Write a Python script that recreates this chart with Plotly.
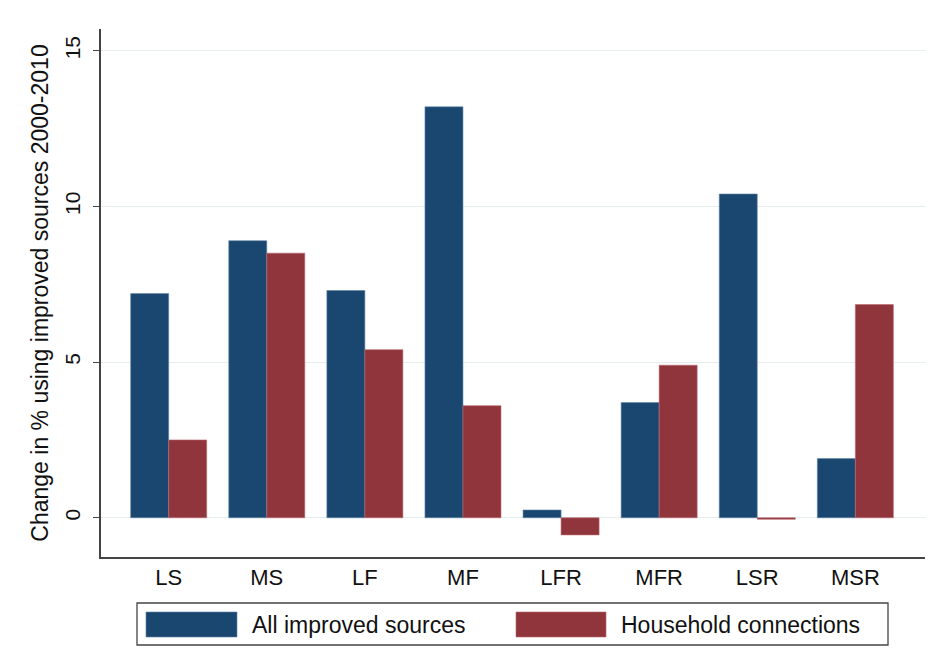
import plotly.graph_objects as go

categories = ["LS", "MS", "LF", "MF", "LFR", "MFR", "LSR", "MSR"]
all_improved = [7.2, 8.9, 7.3, 13.2, 0.25, 3.7, 10.4, 1.9]
household = [2.5, 8.5, 5.4, 3.6, -0.55, 4.9, -0.05, 6.85]
series_names = ["All improved sources", "Household connections"]
y_ticks = [0, 5, 10, 15]

BLUE = "#1a476f"
RED = "#90353b"
FONT = "Liberation Sans, Arial, Helvetica, sans-serif"

W, H = 935, 672
ML, MR, MT, MB = 101, 10, 29, 115
PW, PH = W - ML - MR, H - MT - MB


def px(x):
    return (x - ML) / PW


def py(y):
    return (H - MB - y) / PH


fig = go.Figure()
fig.add_trace(go.Bar(x=categories, y=all_improved, name=series_names[0],
                     marker=dict(color=BLUE, line=dict(color="#5f84a6", width=0.6)),
                     showlegend=False))
fig.add_trace(go.Bar(x=categories, y=household, name=series_names[1],
                     marker=dict(color=RED, line=dict(color="#b86a70", width=0.6)),
                     showlegend=False))

shapes = [
    # legend box
    dict(type="rect", xref="paper", yref="paper", x0=px(137), x1=px(888),
         y0=py(645), y1=py(603), line=dict(color="#444", width=1.3), fillcolor="white"),
    dict(type="rect", xref="paper", yref="paper", x0=px(146), x1=px(237),
         y0=py(637), y1=py(612), line=dict(color="#5f84a6", width=0.6), fillcolor=BLUE),
    dict(type="rect", xref="paper", yref="paper", x0=px(516), x1=px(606),
         y0=py(637), y1=py(612), line=dict(color="#b86a70", width=0.6), fillcolor=RED),
]
annotations = [
    dict(text=series_names[0], xref="paper", yref="paper", x=px(250), y=py(625),
         xanchor="left", yanchor="middle", showarrow=False,
         font=dict(size=23, color="#111", family=FONT)),
    dict(text=series_names[1], xref="paper", yref="paper", x=px(619), y=py(625),
         xanchor="left", yanchor="middle", showarrow=False,
         font=dict(size=23, color="#111", family=FONT)),
]

fig.update_layout(
    width=W, height=H,
    margin=dict(l=ML, r=MR, t=MT, b=MB),
    paper_bgcolor="white", plot_bgcolor="white",
    barmode="group", bargap=0.225, bargroupgap=0,
    font=dict(family=FONT, color="#111"),
    shapes=shapes, annotations=annotations,
    xaxis=dict(range=[-0.69, 7.71], showline=True, linecolor="#444", linewidth=1.5,
               ticks="", showgrid=False, tickfont=dict(size=22, color="#111"),
               ticklabelstandoff=0),
    yaxis=dict(range=[-1.26, 15.7], tickvals=y_ticks, showline=True, linecolor="#444",
               linewidth=1.5, ticks="outside", ticklen=6, tickcolor="#444",
               tickangle=-90, showgrid=True, gridcolor="#e6edef", gridwidth=1.3,
               zeroline=False, tickfont=dict(size=21, color="#111"),
               ticklabelstandoff=5,
               title=dict(text="Change in % using improved sources 2000-2010",
                          font=dict(size=23, color="#111"), standoff=6)),
)

fig.write_html("out.html", config={"displayModeBar": False},
               post_script="document.body.style.margin='0';")
